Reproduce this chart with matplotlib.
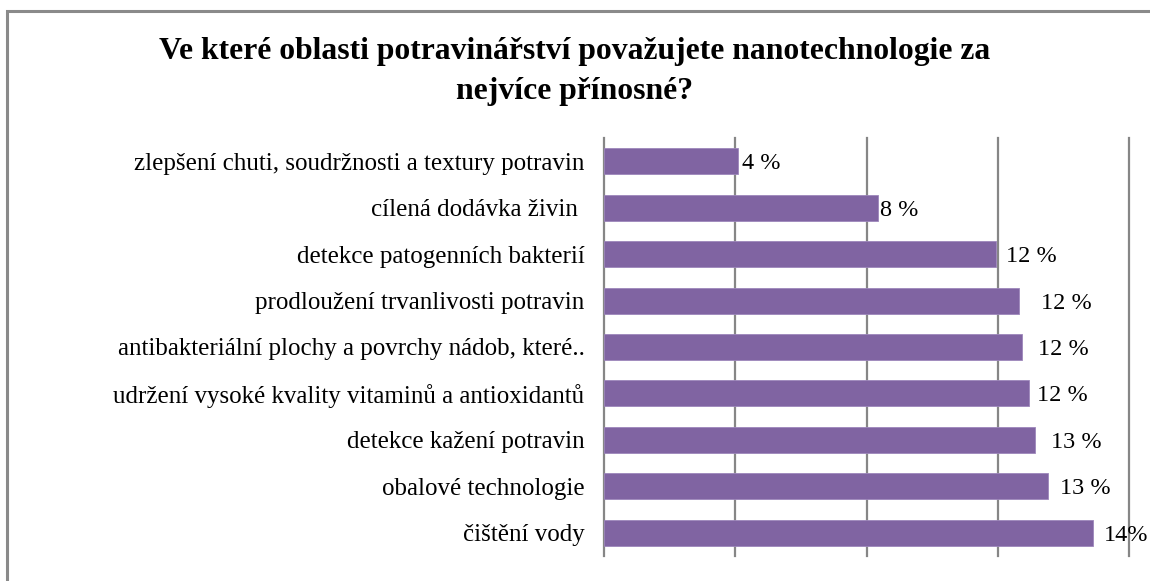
import numpy as np
import matplotlib.pyplot as plt
from matplotlib.patches import Rectangle

# --- Datos (de arriba hacia abajo) ---
categories = [
    "zlepšení chuti, soudržnosti a textury potravin",
    "cílená dodávka živin ",
    "detekce patogenních bakterií",
    "prodloužení trvanlivosti potravin",
    "antibakteriální plochy a povrchy nádob, které..",
    "udržení vysoké kvality vitaminů a antioxidantů",
    "detekce kažení potravin",
    "obalové technologie",
    "čištění vody",
]
values = [3.83, 7.83, 11.20, 11.86, 11.94, 12.14, 12.32, 12.68, 13.97]
value_labels = ["4 %", "8 %", "12 %", "12 %", "12 %", "12 %", "13 %", "13 %", "14%"]
label_shift = [4, 2, 10, 22, 16, 8, 16, 12, 11]  # px, posición manual como en el original

title = "Ve které oblasti potravinářství považujete nanotechnologie za\nnejvíce přínosné?"

bar_color = '#8064A2'
grid_color = '#868686'
serif = ['Liberation Serif', 'DejaVu Serif']

fig = plt.figure(figsize=(11.5, 5.81), dpi=100)
fig.patch.set_facecolor('white')

# marco gris del gráfico (sale por la derecha y abajo)
fig.patches.append(Rectangle((7 / 1150, -0.05), 1.2, 1 - 11 / 581 + 0.05,
                             transform=fig.transFigure, fill=False,
                             edgecolor='#8a8a8a', linewidth=2.2))

ax = fig.add_axes([604 / 1150, 1 - 556 / 581, 525 / 1150, 418 / 581])
y = np.arange(len(categories))
ax.barh(y, values, height=0.56, color=bar_color, edgecolor='#9d86bb', linewidth=0.6, zorder=3)
ax.set_ylim(len(categories) - 0.5, -0.5)
ax.set_xlim(0, 15)
ax.set_xticks([3.75, 7.5, 11.25, 15])
ax.set_xticklabels([])
ax.tick_params(axis='x', length=0)
ax.grid(axis='x', color=grid_color, linewidth=1.6, zorder=0)
for gl in ax.get_xgridlines():
    gl.set_clip_on(False)
ax.set_yticks(y)
ax.set_yticklabels(categories, fontsize=18, family=serif)
ax.tick_params(axis='y', length=0, pad=14)
for s in ['top', 'right', 'bottom']:
    ax.spines[s].set_visible(False)
ax.spines['left'].set_color(grid_color)
ax.spines['left'].set_linewidth(1.6)

for i, (v, lab) in enumerate(zip(values, value_labels)):
    ax.annotate(lab, (v, i), xytext=(label_shift[i] * 0.72, 0), textcoords='offset points',
                ha='left', va='center_baseline', fontsize=17.5, family=serif, color='black')

fig.text(0.5, 1 - 51 / 581, title.split('\n')[0], ha='center', va='center',
         fontsize=22.8, fontweight='bold', family=serif)
fig.text(0.5, 1 - 92 / 581, title.split('\n')[1], ha='center', va='center',
         fontsize=22.8, fontweight='bold', family=serif)

plt.savefig("out.png", dpi=100, facecolor='white')
